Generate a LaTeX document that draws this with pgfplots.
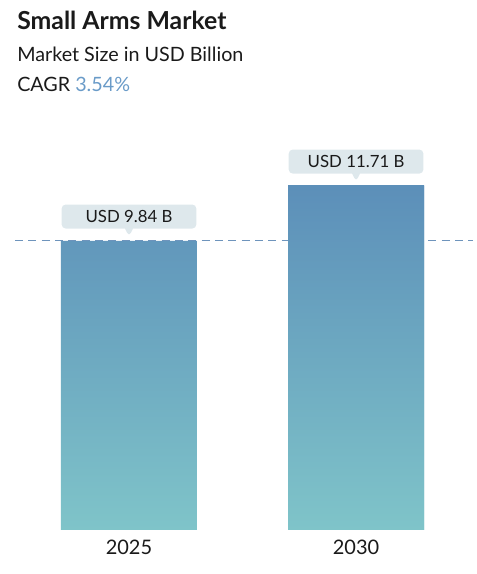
\documentclass[border=0pt]{standalone}
\usepackage{pgfplots}
\pgfplotsset{compat=1.18}
\usetikzlibrary{shapes.callouts}
\usepackage{fontspec}
\setmainfont{Lato}

\definecolor{bartop}{RGB}{92,143,185}
\definecolor{barbot}{RGB}{127,196,201}
\definecolor{dashc}{RGB}{110,148,188}
\definecolor{bubble}{RGB}{222,232,236}
\definecolor{cagr}{RGB}{106,155,200}
\definecolor{ink}{RGB}{26,26,26}

\begin{document}
\begin{tikzpicture}[x=0.75pt,y=0.75pt]
  \useasboundingbox (0,0) rectangle (477,574);
  % titles
  \node[anchor=base west, inner sep=0, text=ink,
        font=\fontsize{18.6}{20}\selectfont\bfseries] at (17,544) {Small Arms Market};
  \node[anchor=base west, inner sep=0, text=ink,
        font=\fontsize{14.8}{18}\selectfont] at (17,512) {Market Size in USD Billion};
  \node[anchor=base west, inner sep=0, text=ink,
        font=\fontsize{14.8}{18}\selectfont] at (17,482) {CAGR \textcolor{cagr}{3.54\%}};

  \begin{axis}[
      at={(11.25pt,33pt)}, anchor=south west,
      scale only axis,
      width=343.5pt, height=292.5pt,
      xmin=-0.502, xmax=1.515,
      ymin=0, ymax=13.27,
      hide y axis,
      axis x line*=bottom,
      x axis line style={draw=none},
      major tick length=0pt,
      xtick={0,1},
      xticklabels={2025,2030},
      xticklabel style={anchor=north, inner sep=0pt, yshift=-7pt,
                        font=\fontsize{15}{18}\selectfont, text=ink},
      /pgf/number format/assume math mode=true,
      clip=false,
    ]
    \addplot[ybar, bar width=102pt, draw=none,
             top color=bartop, bottom color=barbot,
             nodes near coords={USD \pgfmathprintnumber[fixed,fixed zerofill,precision=2]{\pgfplotspointmeta} B},
             every node near coord/.style={
               anchor=south, yshift=9pt,
               rectangle callout, callout relative pointer={(0pt,-6pt)},
               callout pointer width=6pt,
               fill=bubble, rounded corners=3pt,
               minimum width=101pt, minimum height=18pt, inner sep=0pt,
               font=\fontsize{12.6}{15}\selectfont, text=ink}]
      coordinates {(0,9.84) (1,11.71)};

    % reference line at the 2025 value
    \addplot[dashc, line width=0.9pt, dash pattern=on 6pt off 4pt]
      coordinates {(-0.502,9.84) (1.515,9.84)};
    % bar 2 covers the dashed line
    \addplot[ybar, bar width=102pt, draw=none,
             top color=bartop, bottom color=barbot]
      coordinates {(1,11.71)};
  \end{axis}
\end{tikzpicture}
\end{document}
